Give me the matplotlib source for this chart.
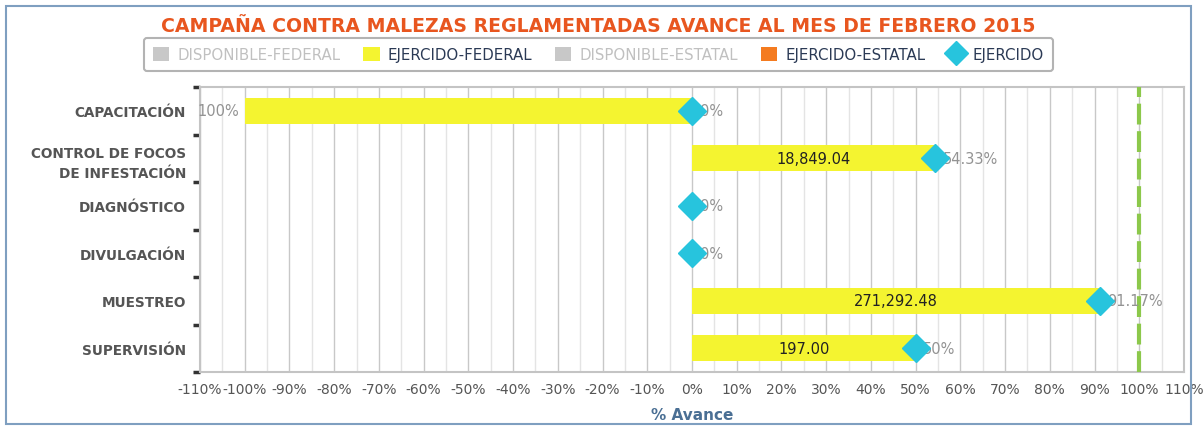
import matplotlib
matplotlib.use("Agg")
import matplotlib.pyplot as plt
from matplotlib.lines import Line2D
from matplotlib.patches import Patch, Rectangle
import numpy as np

# ---- data ----
categories = ["CAPACITACIÓN", "CONTROL DE FOCOS\nDE INFESTACIÓN", "DIAGNÓSTICO",
              "DIVULGACIÓN", "MUESTREO", "SUPERVISIÓN"]
ejercido_federal_pct = [-100, 54.33, 0, 0, 91.17, 50]
ejercido_federal_lbl = ["", "18,849.04", "", "", "271,292.48", "197.00"]
ejercido_pct = [0, 54.33, 0, 0, 91.17, 50]
ejercido_lbl = ["0%", "54.33%", "0%", "0%", "91.17%", "50%"]
neg_lbl = ["100%", "", "", "", "", ""]
xticks = list(range(-110, 111, 10))
xtick_labels = [f"{t}%" for t in xticks]
meta = 100

title = "CAMPAÑA CONTRA MALEZAS REGLAMENTADAS AVANCE AL MES DE FEBRERO 2015"

YELLOW = "#f4f430"
CYAN = "#27c4dd"
ORANGE = "#f47b20"
GRAYLEG = "#c8c8c8"

fig = plt.figure(figsize=(12.04, 4.27), dpi=100)
W, H = 1204, 427
ax = fig.add_axes([200 / W, 1 - 373 / H, (1184 - 200) / W, (373 - 88) / H])

y = np.arange(len(categories))
ax.barh(y, ejercido_federal_pct, height=0.55, color=YELLOW, zorder=3)
ax.plot(ejercido_pct, y, linestyle="none", marker="D", markersize=14,
        color=CYAN, zorder=7)

for yi, v, lbl in zip(y, ejercido_federal_pct, ejercido_federal_lbl):
    if lbl:
        ax.text(v / 2, yi, lbl, ha="center", va="center", fontsize=10.5,
                color="#222222", zorder=6)
for yi, v, lbl in zip(y, ejercido_pct, ejercido_lbl):
    ax.annotate(lbl, (v, yi), xytext=(5.5, 0), textcoords="offset points",
                ha="left", va="center", fontsize=10.5, color="#939393", zorder=6)
for yi, v, lbl in zip(y, ejercido_federal_pct, neg_lbl):
    if lbl:
        ax.annotate(lbl, (v, yi), xytext=(-4, 0), textcoords="offset points",
                    ha="right", va="center", fontsize=10.5, color="#939393", zorder=6)

ax.axvline(meta, color="#8cc84b", lw=3, linestyle=(0, (5, 1.6)), zorder=4)

ax.set_xlim(-110, 110)
ax.set_ylim(len(categories) - 0.5, -0.5)
ax.set_xticks(xticks)
ax.set_xticklabels(xtick_labels, fontsize=10, color="#555555")
ax.set_xticks(np.arange(-105, 110, 10), minor=True)
ax.tick_params(axis="x", which="both", length=0, pad=7)

ax.grid(axis="x", which="major", color="#c8c8c8", lw=1, zorder=0)
ax.grid(axis="x", which="minor", color="#e4e4e4", lw=1, zorder=0)
ax.set_axisbelow(True)

# y ticks: marks at boundaries, labels at centers
ax.set_yticks(np.arange(-0.5, len(categories), 1.0))
ax.set_yticklabels([])
ax.tick_params(axis="y", which="major", length=5, width=2.5, color="#333333")
ax.set_yticks(y, minor=True)
ax.set_yticklabels(categories, minor=True, fontsize=9.8, fontweight="bold",
                   color="#555555", linespacing=1.6)
ax.tick_params(axis="y", which="minor", length=0, pad=10)

for s in ax.spines.values():
    s.set_color("#c4c4c4")
    s.set_linewidth(1.5)

ax.set_xlabel("% Avance", fontsize=11, fontweight="bold", color="#4a6f94",
              labelpad=8)

fig.text(0.497, 1 - 27 / H, title, ha="center", va="center", fontsize=13.6,
         fontweight="bold", color="#e8561f")

handles = [
    Patch(facecolor=GRAYLEG, edgecolor="none"),
    Patch(facecolor=YELLOW, edgecolor="none"),
    Patch(facecolor=GRAYLEG, edgecolor="none"),
    Patch(facecolor=ORANGE, edgecolor="none"),
    Line2D([], [], linestyle="none", marker="D", markersize=12, color=CYAN),
]
labels = ["DISPONIBLE-FEDERAL", "EJERCIDO-FEDERAL", "DISPONIBLE-ESTATAL",
          "EJERCIDO-ESTATAL", "EJERCIDO"]
leg = fig.legend(handles, labels, loc="center", bbox_to_anchor=(0.497, 1 - 55.5 / H),
                 ncol=5, fontsize=10.8, frameon=True, fancybox=True, shadow=False,
                 edgecolor="#a0a0a0", handlelength=1.1, handleheight=1.1,
                 handletextpad=0.55, columnspacing=1.5, borderpad=0.6)
leg.get_frame().set_linewidth(1.5)
for t, c in zip(leg.get_texts(), ["#c0c0c0", "#2b3a55", "#c0c0c0", "#2b3a55", "#2b3a55"]):
    t.set_color(c)

fig.patches.append(Rectangle((6 / W, 1 - 425 / H), (1191 - 6) / W, (425 - 7) / H,
                             transform=fig.transFigure, fill=False,
                             edgecolor="#7f9fc0", lw=1.5))

fig.savefig("out.png", dpi=100)
